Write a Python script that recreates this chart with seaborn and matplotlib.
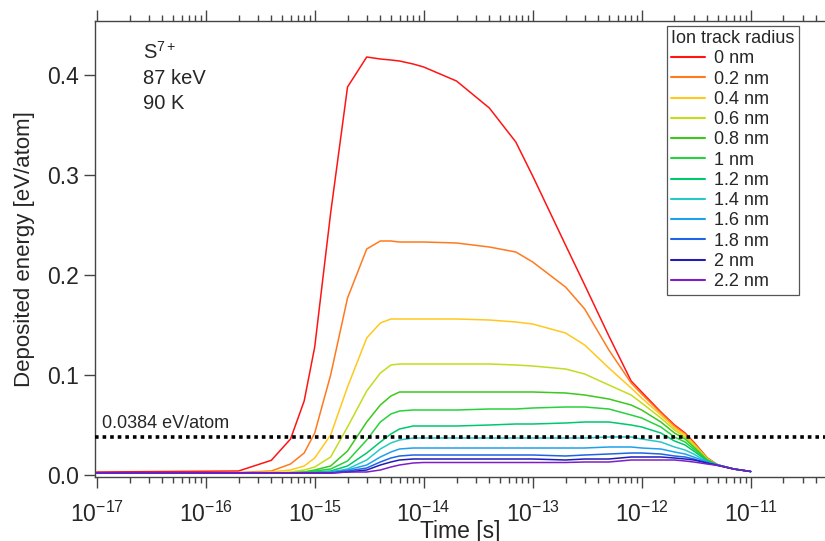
import numpy as np
import pandas as pd
import matplotlib
matplotlib.use("Agg")
import matplotlib.pyplot as plt
import seaborn as sns
from matplotlib.ticker import LogLocator, NullFormatter, MultipleLocator, NullLocator

# ---------------- data ----------------
time_s = [1e-17, 2e-16, 4e-16, 6e-16, 8e-16, 1e-15, 1.4e-15, 2e-15, 3e-15, 4e-15,
          5e-15, 6e-15, 8e-15, 1e-14, 2e-14, 4e-14, 7e-14, 1e-13, 2e-13, 3e-13,
          5e-13, 8e-13, 1e-12, 1.5e-12, 2e-12, 2.5e-12, 3e-12, 4e-12, 5e-12, 7e-12, 1e-11]

radius_labels = ["0 nm", "0.2 nm", "0.4 nm", "0.6 nm", "0.8 nm", "1 nm",
                 "1.2 nm", "1.4 nm", "1.6 nm", "1.8 nm", "2 nm", "2.2 nm"]

e_r00 = [0.003, 0.004, 0.0147, 0.036, 0.074, 0.128, 0.262, 0.388, 0.418, 0.416,
         0.415, 0.414, 0.411, 0.408, 0.394, 0.367, 0.333, 0.299, 0.230, 0.190,
         0.139, 0.094, 0.083, 0.063, 0.050, 0.042, 0.033, 0.017, 0.010, 0.006, 0.0035]
e_r02 = [0.002, 0.0025, 0.004, 0.011, 0.022, 0.042, 0.100, 0.177, 0.226, 0.234,
         0.234, 0.233, 0.233, 0.233, 0.232, 0.228, 0.223, 0.213, 0.188, 0.166,
         0.125, 0.092, 0.081, 0.062, 0.049, 0.041, 0.032, 0.017, 0.010, 0.006, 0.0035]
e_r04 = [0.002, 0.002, 0.003, 0.005, 0.009, 0.017, 0.040, 0.088, 0.137, 0.152,
         0.156, 0.156, 0.156, 0.156, 0.156, 0.155, 0.153, 0.151, 0.142, 0.130,
         0.107, 0.087, 0.077, 0.060, 0.047, 0.040, 0.031, 0.016, 0.010, 0.006, 0.0035]
e_r06 = [0.002, 0.002, 0.002, 0.003, 0.005, 0.008, 0.018, 0.048, 0.084, 0.102,
         0.110, 0.111, 0.111, 0.111, 0.111, 0.111, 0.110, 0.109, 0.106, 0.101,
         0.090, 0.080, 0.072, 0.057, 0.045, 0.038, 0.030, 0.016, 0.010, 0.006, 0.0035]
e_r08 = [0.002, 0.002, 0.002, 0.002, 0.003, 0.005, 0.009, 0.024, 0.053, 0.070,
         0.079, 0.083, 0.083, 0.083, 0.083, 0.083, 0.083, 0.083, 0.082, 0.080,
         0.076, 0.070, 0.065, 0.053, 0.042, 0.036, 0.028, 0.015, 0.010, 0.006, 0.0035]
e_r10 = [0.002, 0.002, 0.002, 0.002, 0.003, 0.004, 0.006, 0.014, 0.035, 0.053,
         0.061, 0.064, 0.065, 0.065, 0.065, 0.066, 0.066, 0.067, 0.068, 0.068,
         0.066, 0.060, 0.057, 0.048, 0.038, 0.033, 0.026, 0.015, 0.010, 0.006, 0.0035]
e_r12 = [0.002, 0.002, 0.002, 0.002, 0.002, 0.003, 0.004, 0.009, 0.022, 0.033,
         0.041, 0.046, 0.049, 0.049, 0.049, 0.050, 0.051, 0.051, 0.052, 0.053,
         0.053, 0.050, 0.048, 0.042, 0.034, 0.030, 0.024, 0.014, 0.010, 0.006, 0.0035]
e_r14 = [0.002, 0.002, 0.002, 0.002, 0.002, 0.002, 0.003, 0.006, 0.015, 0.026,
         0.032, 0.035, 0.037, 0.037, 0.037, 0.037, 0.037, 0.037, 0.037, 0.037,
         0.038, 0.038, 0.036, 0.033, 0.028, 0.025, 0.021, 0.013, 0.010, 0.006, 0.0035]
e_r16 = [0.002, 0.002, 0.002, 0.002, 0.002, 0.002, 0.003, 0.005, 0.010, 0.018,
         0.023, 0.026, 0.027, 0.027, 0.027, 0.027, 0.027, 0.027, 0.027, 0.027,
         0.028, 0.028, 0.027, 0.026, 0.023, 0.021, 0.018, 0.013, 0.010, 0.006, 0.0035]
e_r18 = [0.002, 0.002, 0.002, 0.002, 0.002, 0.002, 0.002, 0.004, 0.007, 0.013,
         0.017, 0.019, 0.020, 0.020, 0.020, 0.020, 0.020, 0.020, 0.019, 0.020,
         0.021, 0.022, 0.022, 0.021, 0.019, 0.018, 0.016, 0.012, 0.010, 0.006, 0.0035]
e_r20 = [0.002, 0.002, 0.002, 0.002, 0.002, 0.002, 0.002, 0.003, 0.005, 0.010,
         0.013, 0.015, 0.016, 0.016, 0.016, 0.016, 0.016, 0.016, 0.015, 0.016,
         0.016, 0.018, 0.018, 0.018, 0.017, 0.016, 0.015, 0.012, 0.0095, 0.006, 0.0035]
e_r22 = [0.002, 0.002, 0.002, 0.002, 0.002, 0.002, 0.002, 0.003, 0.003, 0.005,
         0.008, 0.010, 0.012, 0.0125, 0.0125, 0.0125, 0.0125, 0.0125, 0.0125, 0.013,
         0.013, 0.015, 0.015, 0.015, 0.015, 0.014, 0.013, 0.011, 0.0095, 0.006, 0.0035]

threshold = 0.0384
annotation_lines = ["S$^{7+}$", "87 keV", "90 K"]
colors = ["#ff1414", "#ff7a1e", "#ffc81e", "#c3dc1e", "#3cc81e", "#28d23c",
          "#00c86e", "#28c8c8", "#1ea0f0", "#1e64e6", "#1e1eb4", "#7d1ec8"]

series = [e_r00, e_r02, e_r04, e_r06, e_r08, e_r10, e_r12, e_r14, e_r16, e_r18, e_r20, e_r22]
frames = []
for lab, vals in zip(radius_labels, series):
    frames.append(pd.DataFrame({"time": time_s, "energy": vals, "radius": lab}))
df = pd.concat(frames, ignore_index=True)

# ---------------- style ----------------
sns.set_style("ticks")
plt.rcParams["font.family"] = ["Liberation Sans", "DejaVu Sans"]
plt.rcParams["mathtext.fontset"] = "custom"
plt.rcParams["mathtext.rm"] = "Liberation Sans"
plt.rcParams["mathtext.it"] = "Liberation Sans:italic"
plt.rcParams["mathtext.bf"] = "Liberation Sans:bold"

W, H = 825, 541
fig = plt.figure(figsize=(W / 100, H / 100), dpi=100)
ax = fig.add_axes([95 / W, 1 - 477 / H, (825 - 95) / W, (477 - 21) / H])

sns.lineplot(data=df, x="time", y="energy", hue="radius", hue_order=radius_labels,
             palette=colors, sort=False, estimator=None, linewidth=1.1, ax=ax)

ax.set_xscale("log")
ax.set_xlim(10 ** -17.016, 10 ** -10.318)
ax.set_ylim(-0.002, 0.454)

ax.axhline(threshold, color="black", linewidth=2.6, linestyle=(0, (1, 1.1)), zorder=5)

ax.xaxis.set_major_locator(LogLocator(base=10, numticks=20))
ax.xaxis.set_minor_locator(LogLocator(base=10, subs=np.arange(2, 10), numticks=200))
ax.xaxis.set_minor_formatter(NullFormatter())
ax.yaxis.set_major_locator(MultipleLocator(0.1))
ax.yaxis.set_minor_locator(NullLocator())
ax.yaxis.set_major_formatter(matplotlib.ticker.FormatStrFormatter("%.1f"))

tick_col = "#444444"
ax.tick_params(axis="x", which="major", direction="out", length=8, width=1,
               color=tick_col, labelsize=16.5, pad=10, top=True, bottom=True)
ax.tick_params(axis="x", which="minor", direction="out", length=4.5, width=1,
               color=tick_col, top=True, bottom=True)
ax.tick_params(axis="y", which="major", direction="out", length=8, width=1,
               color=tick_col, labelsize=16.5, pad=3.5)
for side in ["left", "bottom", "top"]:
    ax.spines[side].set_color(tick_col)
    ax.spines[side].set_linewidth(1)
ax.spines["right"].set_visible(False)

ax.set_xlabel("Time [s]", fontsize=16.5, labelpad=-5)
ax.set_ylabel("Deposited energy [eV/atom]", fontsize=16, labelpad=9)

# annotations
for i, txt in enumerate(annotation_lines):
    fig.text(143 / W, 1 - (59.3 + 24.7 * i) / H, txt, fontsize=14.5,
             va="baseline", ha="left")
fig.text(102 / W, 1 - 428.5 / H, "0.0384 eV/atom", fontsize=13, va="baseline", ha="left")

# legend
handles, labels = ax.get_legend_handles_labels()
leg = ax.legend(handles, labels, title="Ion track radius", loc="upper right",
                bbox_to_anchor=(799 / W, 1 - 25.7 / H), bbox_transform=fig.transFigure,
                fontsize=13, title_fontsize=13, frameon=True, fancybox=False,
                framealpha=1, edgecolor="#555555", borderaxespad=0, borderpad=0.25,
                labelspacing=0.18, handlelength=1.9, handletextpad=0.45,
                alignment="left")
leg.get_frame().set_linewidth(0.9)
for line in leg.get_lines():
    line.set_linewidth(1.5)

fig.savefig("out.png", dpi=100)
